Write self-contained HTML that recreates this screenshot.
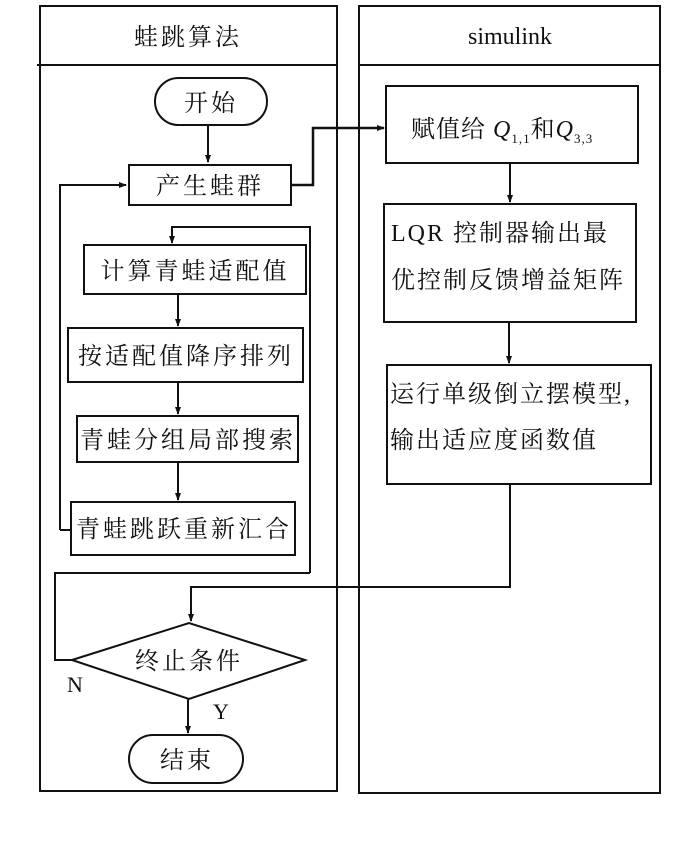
<!DOCTYPE html>
<html><head><meta charset="utf-8"><style>
html,body{margin:0;padding:0;background:#fff}
svg{display:block}
text{font-family:"Liberation Serif","Noto Serif CJK SC",serif;fill:#111}
.c{font-size:24px;letter-spacing:3px}
</style></head><body>
<svg width="700" height="843" viewBox="0 0 700 843" xmlns="http://www.w3.org/2000/svg">
<defs><marker id="a" markerWidth="8" markerHeight="12" refX="7" refY="4" orient="auto" markerUnits="userSpaceOnUse" viewBox="0 0 8 8"><path d="M0,1 L8,4 L0,7 z" fill="#111"/></marker></defs>
<g fill="none" stroke="#111" stroke-width="2">
<!-- lanes -->
<rect x="40" y="6" width="297" height="785"/>
<line x1="37" y1="65" x2="337" y2="65"/>
<rect x="359" y="6" width="301" height="787"/>
<line x1="359" y1="65" x2="660" y2="65"/>
<!-- left nodes -->
<rect x="155" y="78" width="112" height="47" rx="23.5"/>
<line x1="208" y1="125" x2="208" y2="162" marker-end="url(#a)"/>
<rect x="129" y="165" width="162" height="40"/>
<polyline points="60,530 60,185 126,185" marker-end="url(#a)"/>
<polyline points="291,185 313,185 313,128 384,128" stroke-width="2.5" marker-end="url(#a)"/>
<polyline points="310,573 310,227 172,227 172,243" marker-end="url(#a)"/>
<rect x="84" y="245" width="222" height="49"/>
<line x1="178" y1="294" x2="178" y2="326" marker-end="url(#a)"/>
<rect x="68" y="328" width="235" height="54"/>
<line x1="178" y1="382" x2="178" y2="414" marker-end="url(#a)"/>
<rect x="77" y="416" width="221" height="46"/>
<line x1="178" y1="462" x2="178" y2="500" marker-end="url(#a)"/>
<rect x="71" y="502" width="224" height="53"/>
<line x1="60" y1="530" x2="71" y2="530"/>
<polyline points="310,573 55,573 55,660 72,660"/>
<polygon points="72,660 189,623 305,660 189,699"/>
<line x1="188" y1="699" x2="188" y2="733" marker-end="url(#a)"/>
<rect x="129" y="735" width="114" height="48" rx="24"/>
<!-- right nodes -->
<rect x="386" y="86" width="252" height="77"/>
<line x1="510" y1="163" x2="510" y2="202" marker-end="url(#a)"/>
<rect x="384" y="204" width="252" height="118"/>
<line x1="509" y1="322" x2="509" y2="363" marker-end="url(#a)"/>
<rect x="387" y="365" width="264" height="119"/>
<polyline points="510,484 510,587 191,587 191,621" marker-end="url(#a)"/>
</g>
<text x="188" y="45" class="c" text-anchor="middle">蛙跳算法</text>
<text x="510" y="44" font-size="24" text-anchor="middle">simulink</text>
<text x="211" y="111" class="c" text-anchor="middle">开始</text>
<text x="210" y="194" class="c" text-anchor="middle">产生蛙群</text>
<text x="195" y="279" class="c" text-anchor="middle">计算青蛙适配值</text>
<text x="186" y="364" class="c" text-anchor="middle">按适配值降序排列</text>
<text x="188" y="448" class="c" text-anchor="middle">青蛙分组局部搜索</text>
<text x="184" y="537" class="c" text-anchor="middle">青蛙跳跃重新汇合</text>
<text x="189" y="669" class="c" text-anchor="middle">终止条件</text>
<text x="67" y="692" font-size="22">N</text>
<text x="213" y="719" font-size="22">Y</text>
<text x="187" y="768" class="c" text-anchor="middle">结束</text>
<text x="411" y="137" font-size="24" letter-spacing="1">赋值给 <tspan font-style="italic">Q</tspan><tspan font-size="13" dy="6">1,1</tspan><tspan dy="-6">和</tspan><tspan font-style="italic">Q</tspan><tspan font-size="13" dy="6">3,3</tspan></text>
<text x="391" y="241" font-size="24" letter-spacing="2">LQR 控制器输出最</text>
<text x="391" y="288" font-size="24" letter-spacing="2">优控制反馈增益矩阵</text>
<text x="390" y="402" font-size="24" letter-spacing="2">运行单级倒立摆模型,</text>
<text x="390" y="448" font-size="24" letter-spacing="2">输出适应度函数值</text>
</svg>
</body></html>
